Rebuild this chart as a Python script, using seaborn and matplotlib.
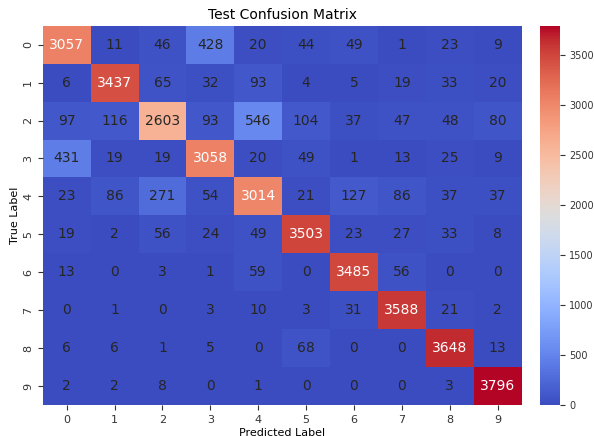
import numpy as np
import matplotlib
matplotlib.use("Agg")
import matplotlib.pyplot as plt
import seaborn as sns

class_labels = ["0", "1", "2", "3", "4", "5", "6", "7", "8", "9"]

row_0 = [3057, 11, 46, 428, 20, 44, 49, 1, 23, 9]
row_1 = [6, 3437, 65, 32, 93, 4, 5, 19, 33, 20]
row_2 = [97, 116, 2603, 93, 546, 104, 37, 47, 48, 80]
row_3 = [431, 19, 19, 3058, 20, 49, 1, 13, 25, 9]
row_4 = [23, 86, 271, 54, 3014, 21, 127, 86, 37, 37]
row_5 = [19, 2, 56, 24, 49, 3503, 23, 27, 33, 8]
row_6 = [13, 0, 3, 1, 59, 0, 3485, 56, 0, 0]
row_7 = [0, 1, 0, 3, 10, 3, 31, 3588, 21, 2]
row_8 = [6, 6, 1, 5, 0, 68, 0, 0, 3648, 13]
row_9 = [2, 2, 8, 0, 1, 0, 0, 0, 3, 3796]

cm = np.array([row_0, row_1, row_2, row_3, row_4,
               row_5, row_6, row_7, row_8, row_9])

fig = plt.figure(figsize=(5.94, 4.36), dpi=100)
ax = fig.add_axes([0.072, 0.071, 0.806, 0.870])
cax = fig.add_axes([0.909, 0.071, 0.034, 0.870])

sns.heatmap(cm, annot=True, fmt="d", cmap="coolwarm",
            xticklabels=class_labels, yticklabels=class_labels,
            ax=ax, cbar_ax=cax, annot_kws={"fontsize": 10})

# dark text on the cool cells, white on the strongly red diagonal
for txt in ax.texts:
    val = int(txt.get_text())
    txt.set_color("white" if val > 2800 else "#262626")

ax.set_title("Test Confusion Matrix", fontsize=10, pad=5)
ax.set_xlabel("Predicted Label", fontsize=8, labelpad=2)
ax.set_ylabel("True Label", fontsize=8, labelpad=2)
ax.tick_params(axis="both", labelsize=8, colors="#333333")
cax.tick_params(labelsize=7, colors="#333333", pad=3)

fig.savefig("out.png", dpi=100)
